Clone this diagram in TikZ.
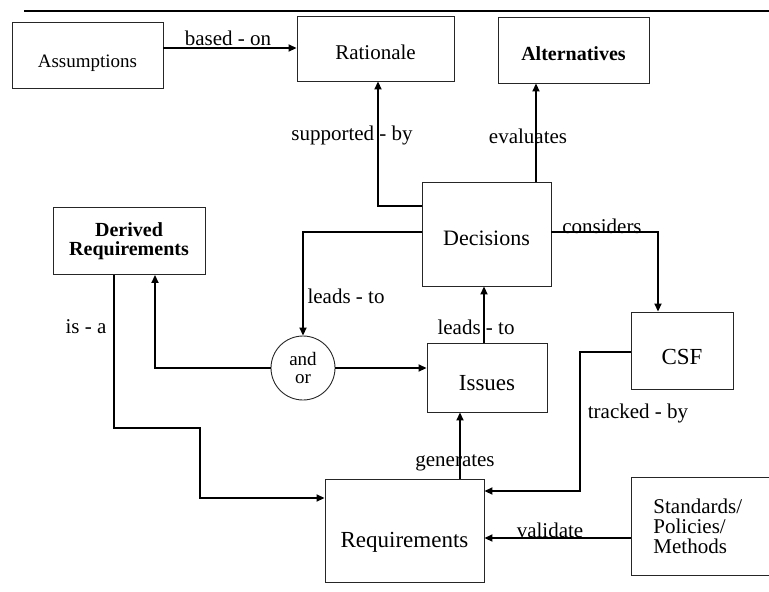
\documentclass[tikz,border=0pt]{standalone}
\usepackage{fontspec}
\setmainfont{Liberation Serif}
\usetikzlibrary{arrows.meta}
\newcommand{\fs}[2]{\fontsize{#1}{#2}\selectfont}
\begin{document}
\begin{tikzpicture}[x=1pt,y=-1pt,
  box/.style={draw=black!85, line width=0.9pt, rectangle, inner sep=0pt},
  txt/.style={text height=#1, text depth=0pt},
  conn/.style={line width=1.7pt, -{Triangle[length=8pt,width=7pt]}},
  rule/.style={line width=1.4pt},
  lbl/.style={inner sep=0pt, font=\fs{21}{21}},
]
\useasboundingbox (0,0) rectangle (769,592);
\clip (0,0) rectangle (769,592);

% heading rule
\coordinate (rl) at (24,11);
\coordinate (rr) at (769,11);
\draw[rule] (rl) -- (rr);

% boxes
\node[box, txt=24pt, minimum width=151, minimum height=66, font=\fs{19}{19}] (ass) at (87.5,55) {Assumptions};
\node[box, txt=21pt, minimum width=157, minimum height=65, font=\fs{21}{21}] (rat) at (375.5,48.5) {Rationale};
\node[box, txt=21pt, minimum width=151, minimum height=66, font=\bfseries\fs{20}{20}] (alt) at (573.5,50) {Alternatives};
\node[box, txt=22pt, minimum width=129, minimum height=104, font=\fs{22}{22}] (dec) at (486.5,234) {Decisions};
\node[box, minimum width=152, minimum height=67, align=center, font=\bfseries\fs{20}{19}] (der) at (129,241) {Derived\\Requirements};
\node[draw=black!85, line width=0.9pt, circle, minimum size=64, inner sep=0pt, align=center, font=\fs{19}{18}] (andor) at (303,368) {and\\or};
\node[box, txt=26pt, minimum width=120, minimum height=69, font=\fs{23}{23}] (iss) at (487,377.5) {Issues};
\node[box, txt=28pt, minimum width=102, minimum height=77, font=\fs{23}{23}] (csf) at (682,350.5) {CSF};
\node[box, txt=33pt, minimum width=159, minimum height=103, font=\fs{23}{23}] (req) at (404.5,530.5) {Requirements};
\node[box, anchor=west, minimum height=98, text width=116, inner xsep=22, align=left, font=\fs{21}{20}] (std) at (631,526) {Standards/\\Policies/\\Methods};

% connectors
\draw[conn] (ass.east |- 0,48) -- (rat.west |- 0,48);
\coordinate (sb) at (378,206);
\draw[conn] (dec.west |- sb) -- (sb) -- (sb |- rat.south);
\draw[conn] (dec.north -| 536,0) -- (alt.south -| 536,0);
\draw[conn] (dec.west |- 0,232) -| (andor.north);
\draw[conn] (andor.west) -| (der.south -| 155,0);
\draw[conn] (andor.east) -- (andor.east -| iss.west);
\draw[conn] (iss.north -| 484,0) -- (dec.south -| 484,0);
\draw[conn] (dec.east |- 0,232) -| (csf.north -| 658,0);
\coordinate (tb) at (580,491);
\draw[conn] (csf.west |- 0,352) -| (tb) -- (req.east |- tb);
\draw[conn] (req.north -| 460,0) -- (iss.south -| 460,0);
\coordinate (ia) at (200,428);
\draw[conn] (der.south -| 114,0) |- (ia) |- (req.west |- 0,498);
\draw[conn] (std.west |- 0,538) -- (req.east |- 0,538);

% connector labels
\node[lbl] (l1) at (228,38) {based - on};
\node[lbl] (l2) at (352,135) {supported - by};
\node[lbl] (l3) at (528,136) {evaluates};
\node[lbl] (l4) at (346,296) {leads - to};
\node[lbl] (l5) at (476,327) {leads - to};
\node[lbl] (l6) at (602,226) {considers};
\node[lbl] (l7) at (638,413) {tracked - by};
\node[lbl] (l8) at (455,463) {generates};
\node[lbl] (l9) at (550,530) {validate};
\node[lbl] (l10) at (86,327) {is - a};
\end{tikzpicture}
\end{document}
